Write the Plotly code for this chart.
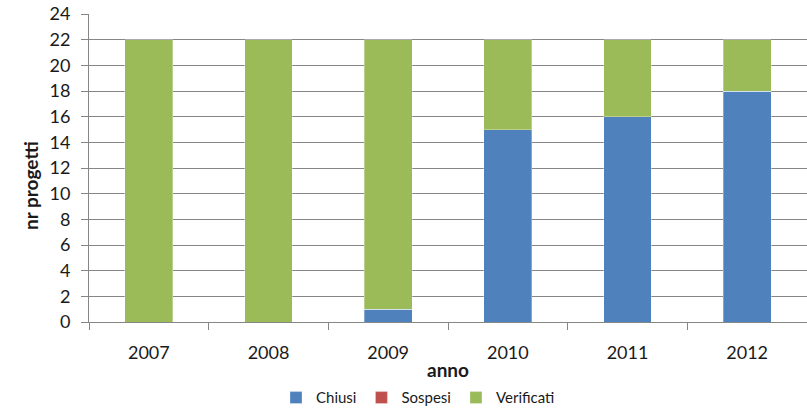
import plotly.graph_objects as go

years = ["2007", "2008", "2009", "2010", "2011", "2012"]
chiusi = [0, 0, 1, 15, 16, 18]
sospesi = [0, 0, 0, 0, 0, 0]
verificati = [22, 22, 21, 7, 6, 4]
y_ticks = list(range(0, 25, 2))

font = "Lato, Open Sans, sans-serif"
fig = go.Figure()
for name, vals, col in [("Chiusi", chiusi, "#4F81BD"),
                        ("Sospesi", sospesi, "#C0504D"),
                        ("Verificati", verificati, "#9BBB59")]:
    fig.add_trace(go.Bar(x=years, y=vals, name=name, marker_color=col,
                         marker_line_width=0.6, marker_line_color="rgba(255,255,255,0.5)"))

fig.update_layout(
    barmode="stack", bargap=0.6,
    width=807, height=411,
    margin=dict(l=89, r=0, t=14, b=89, autoexpand=False),
    plot_bgcolor="white", paper_bgcolor="white",
    font=dict(family=font, size=18, color="#1a1a1a"),
    showlegend=True,
    legend=dict(orientation="h", xref="container", x=276 / 807, xanchor="left",
                yref="container", y=0.032, yanchor="middle",
                itemwidth=30, font=dict(size=15), traceorder="normal"),
    xaxis=dict(title=dict(text="<b>anno</b>", font=dict(size=19), standoff=19),
               automargin=False,
               showline=True, linecolor="#868686", linewidth=1,
               ticks="outside", tickson="boundaries", ticklen=7, tickcolor="#868686",
               ticklabelstandoff=14),
    yaxis=dict(automargin=False,
               range=[0, 24], tickvals=y_ticks, showgrid=True, gridcolor="#868686",
               showline=True, linecolor="#868686", ticks="outside", ticklen=7,
               tickcolor="#868686", zeroline=False, ticklabelstandoff=7),
    annotations=[dict(text="<b>nr progetti</b>", textangle=-90, showarrow=False,
                      xref="paper", x=-(89 - 30) / 718, xanchor="center",
                      yref="paper", y=(322 - 186) / 308, yanchor="middle",
                      font=dict(size=19))],
)
fig.write_html("out.html", config={"displayModeBar": False},
               post_script="document.body.style.margin='0';document.body.style.padding='0';")
